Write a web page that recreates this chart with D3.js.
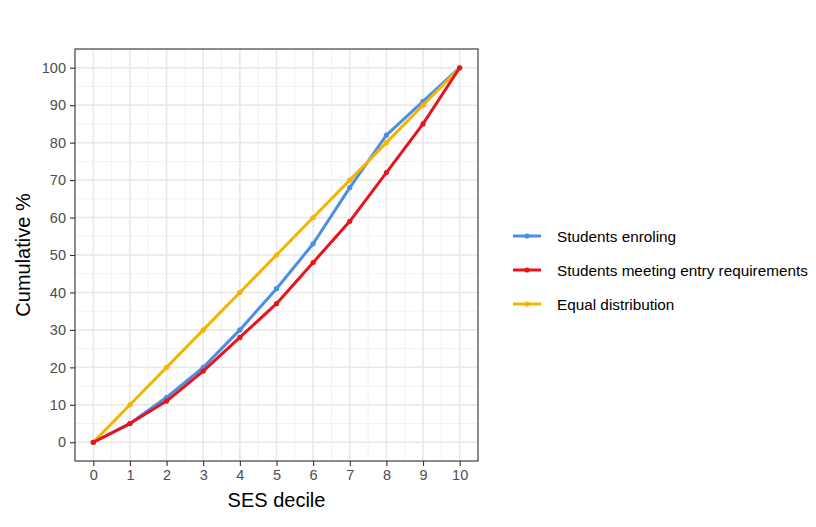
<!DOCTYPE html>
<html>
<head>
<meta charset="utf-8">
<script src="https://cdn.jsdelivr.net/npm/d3@7"></script>
<style>
  body { margin: 0; background: #fff; }
  text { font-family: "Liberation Sans", Arial, sans-serif; }
</style>
</head>
<body>
<svg id="chart" width="816" height="527"></svg>
<script>
// deciles and cumulative shares
var deciles = [0, 1, 2, 3, 4, 5, 6, 7, 8, 9, 10];
var enroling = [0, 5, 12, 20, 30, 41, 53, 68, 82, 91, 100];
var meeting = [0, 5, 11, 19, 28, 37, 48, 59, 72, 85, 100];
var equal = [0, 10, 20, 30, 40, 50, 60, 70, 80, 90, 100];
var yTicks = [0, 10, 20, 30, 40, 50, 60, 70, 80, 90, 100];

var seriesNames = ['Students enroling', 'Students meeting entry requirements', 'Equal distribution'];
var seriesColors = ['#4a8ee6', '#e8131b', '#f4b400'];

var svg = d3.select('#chart');
var panel = { left: 75, right: 478, top: 49, bottom: 461 };

var x = d3.scaleLinear().domain([-0.5, 10.5]).range([panel.left, panel.right]);
var y = d3.scaleLinear().domain([-5, 105]).range([panel.bottom, panel.top]);

// grid
var g = svg.append('g');
var minorX = d3.range(-0.5, 10.51, 0.5);
var minorY = d3.range(-5, 105.1, 5);
g.selectAll('.mx').data(minorX).enter().append('line')
  .attr('x1', d => x(d)).attr('x2', d => x(d))
  .attr('y1', panel.top).attr('y2', panel.bottom)
  .attr('stroke', '#f2f2f2').attr('stroke-width', 1);
g.selectAll('.my').data(minorY).enter().append('line')
  .attr('y1', d => y(d)).attr('y2', d => y(d))
  .attr('x1', panel.left).attr('x2', panel.right)
  .attr('stroke', '#f2f2f2').attr('stroke-width', 1);
g.selectAll('.Mx').data(deciles).enter().append('line')
  .attr('x1', d => x(d)).attr('x2', d => x(d))
  .attr('y1', panel.top).attr('y2', panel.bottom)
  .attr('stroke', '#e8e8e8').attr('stroke-width', 1.5);
g.selectAll('.My').data(yTicks).enter().append('line')
  .attr('y1', d => y(d)).attr('y2', d => y(d))
  .attr('x1', panel.left).attr('x2', panel.right)
  .attr('stroke', '#e8e8e8').attr('stroke-width', 1.5);

// axes
var xAxis = svg.append('g')
  .attr('transform', 'translate(0,' + panel.bottom + ')')
  .call(d3.axisBottom(x).tickValues(deciles).tickSize(5).tickSizeOuter(0).tickPadding(4));
var yAxis = svg.append('g')
  .attr('transform', 'translate(' + panel.left + ',0)')
  .call(d3.axisLeft(y).tickValues(yTicks).tickSize(5).tickSizeOuter(0).tickPadding(4));
[xAxis, yAxis].forEach(function (a) {
  a.select('.domain').remove();
  a.selectAll('line').attr('stroke', '#333').attr('stroke-width', 1.1);
  a.selectAll('text').attr('fill', '#4d4d4d').style('font-size', '14.5px')
    .style('font-family', '"Liberation Sans", Arial, sans-serif');
});

// lines
var line = d3.line().x((d, i) => x(deciles[i])).y(d => y(d));
var drawOrder = [0, 2, 1];
var allSeries = [enroling, meeting, equal];
drawOrder.forEach(function (k) {
  svg.append('path').datum(allSeries[k])
    .attr('d', line).attr('fill', 'none')
    .attr('stroke', seriesColors[k]).attr('stroke-width', 3)
    .attr('stroke-linejoin', 'round');
  svg.selectAll(null).data(allSeries[k]).enter().append('circle')
    .attr('cx', (d, i) => x(deciles[i])).attr('cy', d => y(d))
    .attr('r', 2.6).attr('fill', seriesColors[k]);
});

// panel border
svg.append('rect')
  .attr('x', panel.left).attr('y', panel.top)
  .attr('width', panel.right - panel.left).attr('height', panel.bottom - panel.top)
  .attr('fill', 'none').attr('stroke', '#333').attr('stroke-width', 1.1);

// axis titles
svg.append('text').attr('x', (panel.left + panel.right) / 2).attr('y', 507)
  .attr('text-anchor', 'middle').style('font-size', '20px').attr('fill', '#000')
  .text('SES decile');
svg.append('text')
  .attr('transform', 'translate(30,' + ((panel.top + panel.bottom) / 2) + ') rotate(-90)')
  .attr('text-anchor', 'middle').style('font-size', '20px').attr('fill', '#000')
  .text('Cumulative %');

// legend
var legend = svg.append('g');
seriesNames.forEach(function (name, i) {
  var ly = 236 + i * 34;
  legend.append('line').attr('x1', 513).attr('x2', 541).attr('y1', ly).attr('y2', ly)
    .attr('stroke', seriesColors[i]).attr('stroke-width', 3);
  legend.append('circle').attr('cx', 527).attr('cy', ly).attr('r', 2.6).attr('fill', seriesColors[i]);
  legend.append('text').attr('x', 557).attr('y', ly + 5.5)
    .style('font-size', '15.3px').attr('fill', '#000').text(name);
});
</script>
</body>
</html>
